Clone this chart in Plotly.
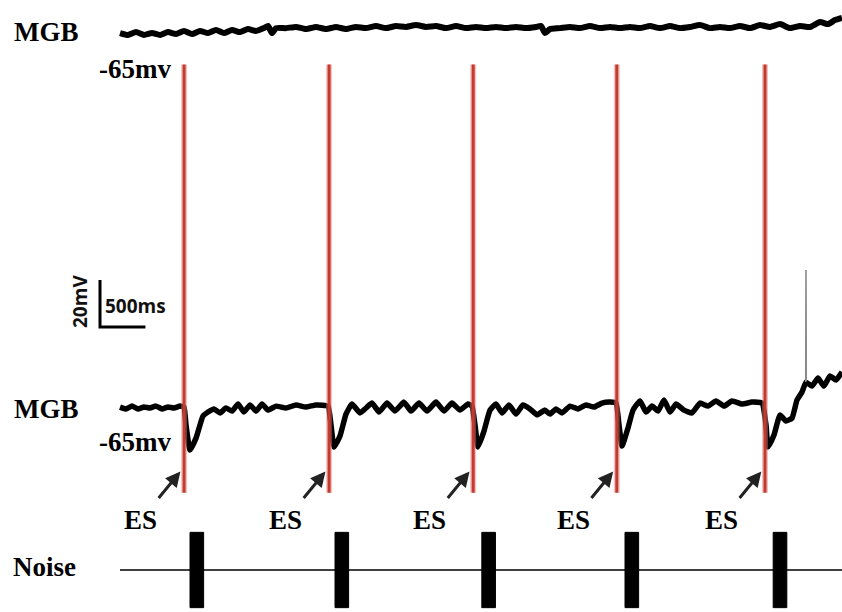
import plotly.graph_objects as go

# ---------------------------------------------------------------- data ----
# Upper MGB recording: time (ms) and membrane potential (mV)
top_t = [0, 88, 176, 264, 352, 440, 528, 616, 704, 792, 880, 968, 1056, 1144,
         1232, 1320, 1408, 1496, 1584, 1628, 1672, 1716, 1826, 1936, 2046, 2156,
         2266, 2376, 2486, 2596, 2706, 2816, 2926, 3036, 3146, 3256, 3366, 3476,
         3586, 3696, 3806, 3916, 4026, 4136, 4246, 4356, 4466, 4576, 4631, 4675,
         4730, 4840, 4950, 5060, 5170, 5280, 5390, 5500, 5610, 5720, 5830, 5940,
         6050, 6160, 6270, 6380, 6490, 6600, 6710, 6820, 6930, 7040, 7150, 7260,
         7370, 7480, 7590, 7700, 7788, 7865, 7942]
top_mv = [-66.3, -67.1, -65.9, -67.1, -66.3, -67.1, -65.9, -66.7, -65.4, -66.7,
          -65.4, -66.3, -65.0, -66.3, -65.0, -65.9, -64.6, -65.4, -64.2, -63.3,
          -66.3, -64.2, -64.2, -63.7, -64.6, -63.7, -64.6, -63.7, -64.6, -63.7,
          -64.2, -63.3, -64.2, -63.3, -63.7, -62.9, -63.7, -63.3, -64.2, -63.3,
          -64.2, -63.7, -64.2, -63.7, -64.2, -63.7, -64.2, -63.7, -63.3, -66.3,
          -64.6, -64.2, -63.7, -64.2, -63.3, -64.2, -63.7, -64.2, -63.7, -64.2,
          -63.3, -64.2, -63.3, -64.2, -63.7, -62.9, -64.2, -63.7, -64.2, -63.3,
          -64.2, -62.9, -63.7, -62.5, -64.2, -63.3, -63.7, -61.6, -62.5, -60.8,
          -59.9]

# Lower MGB recording: time (ms) and membrane potential (mV)
lower_t = [0, 66, 132, 198, 264, 330, 396, 462, 528, 594, 660, 704,
           726, 770, 836, 913, 968, 1034, 1100, 1166, 1232, 1298, 1364, 1430,
           1496, 1562, 1628, 1716, 1826, 1936, 2046, 2156, 2288,
           2321, 2354, 2420, 2486, 2552, 2640, 2706, 2772, 2849, 2937, 3025,
           3124, 3201, 3289, 3377, 3476, 3564, 3652, 3740, 3828, 3872,
           3905, 3938, 4004, 4070, 4136, 4202, 4279, 4356, 4433, 4510, 4587,
           4675, 4730, 4796, 4862, 4950, 5038, 5126, 5214, 5302, 5390, 5456,
           5489, 5522, 5588, 5643, 5720, 5786, 5852, 5918, 5984, 6050, 6116,
           6204, 6292, 6380, 6468, 6556, 6644, 6732, 6842, 6952, 7062,
           7106, 7128, 7194, 7260, 7326, 7392, 7447, 7502, 7546, 7612, 7678,
           7744, 7810, 7876, 7942]
lower_mv = [-64.6, -65.4, -64.2, -65.4, -64.6, -65.0, -64.2, -65.4, -64.6, -65.0,
            -64.2, -64.6,
            -72.2, -82.9, -77.8, -68.4, -66.7, -65.4, -67.1, -65.0, -66.3, -63.3,
            -66.7, -63.7, -66.3, -63.3, -65.9, -64.2, -65.0, -63.7, -64.6, -63.7,
            -64.2,
            -72.2, -81.6, -76.9, -67.6, -63.3, -67.1, -65.0, -62.9, -66.7, -62.9,
            -66.3, -62.5, -66.3, -62.9, -66.3, -62.5, -66.3, -62.9, -65.9, -63.3,
            -64.2,
            -72.2, -81.6, -74.8, -65.9, -63.3, -67.1, -63.7, -67.6, -63.7, -65.4,
            -67.9, -65.9, -67.6, -65.4, -67.1, -64.2, -65.4, -63.7, -64.6, -62.9,
            -62.5, -62.9,
            -72.2, -81.2, -73.5, -65.9, -62.0, -66.7, -64.2, -66.3, -61.6, -66.7,
            -63.3, -65.9, -67.1, -62.9, -64.2, -62.0, -64.2, -62.0, -63.3, -62.5,
            -62.9,
            -72.2, -81.6, -76.5, -68.0, -70.5, -69.3, -61.6, -58.2, -54.0, -55.7,
            -52.3, -55.7, -51.4, -53.1, -49.7]

# Action potential fired after the last stimulus
spike_t = [7543, 7546, 7549]
spike_mv = [-54.0, -6.4, -53.5]

# Electrical stimulation (ES) times, ms
es_t = [705, 2300, 3885, 5465, 7095]

# Noise bursts: onset and duration, ms
noise_onset = [770, 2365, 3980, 5555, 7185]
noise_dur = [150, 150, 150, 150, 150]

# Scale bar
scale_ms = 500
scale_mv = 20

# -------------------------------------------------------------- layout ----
W, H = 842, 612
MS_PER_PX = 11.0
MV_PER_PX = 0.425
X0 = -1320.0                      # time at the left edge
X1 = X0 + W * MS_PER_PX
Y1 = H * MV_PER_PX

TOP_OFF = 312.35                  # vertical offsets of each row
LOW_OFF = 151.7
NOISE_Y = 17.85
NOISE_AMP = 16.0
ES_TOP_MV, ES_BOT_MV = 81.0, -101.0
TRACE_END = lower_t[-1]


def px(x):
    return x / W


def py(y):
    return 1 - y / H


fig = go.Figure()

# upper trace
fig.add_trace(go.Scatter(
    x=top_t, y=[v + TOP_OFF for v in top_mv], mode="lines",
    line=dict(color="black", width=6, shape="spline", smoothing=0.5),
    hoverinfo="skip"))

# lower trace
fig.add_trace(go.Scatter(
    x=lower_t, y=[v + LOW_OFF for v in lower_mv], mode="lines",
    line=dict(color="black", width=5.5, shape="spline", smoothing=0.4),
    hoverinfo="skip"))

# spike
fig.add_trace(go.Scatter(
    x=spike_t, y=[v + LOW_OFF for v in spike_mv], mode="lines",
    line=dict(color="#8a8a8a", width=1.6), hoverinfo="skip"))

# ES artifacts
ex, ey = [], []
for t in es_t:
    ex += [t, t, None]
    ey += [ES_TOP_MV + LOW_OFF, ES_BOT_MV + LOW_OFF, None]
fig.add_trace(go.Scatter(x=ex, y=ey, mode="lines",
                         line=dict(color="rgba(225,120,110,0.45)", width=6),
                         hoverinfo="skip"))
fig.add_trace(go.Scatter(x=ex, y=ey, mode="lines",
                         line=dict(color="#c23a30", width=3),
                         hoverinfo="skip"))

# noise stimulus line and bursts
fig.add_trace(go.Scatter(x=[0, TRACE_END], y=[NOISE_Y, NOISE_Y], mode="lines",
                         line=dict(color="black", width=1.4), hoverinfo="skip"))
nx, ny = [], []
for on, d in zip(noise_onset, noise_dur):
    nx += [on, on, on + d, on + d, on, None]
    ny += [NOISE_Y - NOISE_AMP, NOISE_Y + NOISE_AMP, NOISE_Y + NOISE_AMP,
           NOISE_Y - NOISE_AMP, NOISE_Y - NOISE_AMP, None]
fig.add_trace(go.Scatter(x=nx, y=ny, mode="lines", fill="toself",
                         fillcolor="black", line=dict(color="black", width=1),
                         hoverinfo="skip"))

# scale bar
sb_x0 = -220
sb_y0 = 121.1
fig.add_trace(go.Scatter(
    x=[sb_x0, sb_x0, sb_x0 + scale_ms],
    y=[sb_y0 + scale_mv, sb_y0, sb_y0],
    mode="lines", line=dict(color="black", width=3), hoverinfo="skip"))

serif = dict(family="Liberation Serif", size=27, color="black", weight="bold")
sans = dict(family="Open Sans", size=19, color="#111111", weight="bold")

ann = []
ann.append(dict(text="MGB", x=px(12), y=py(32), xref="paper", yref="paper",
                xanchor="left", yanchor="middle", showarrow=False, font=serif))
ann.append(dict(text="-65mv", x=px(97), y=py(69), xref="paper", yref="paper",
                xanchor="left", yanchor="middle", showarrow=False, font=serif))
ann.append(dict(text="MGB", x=px(12), y=py(409), xref="paper", yref="paper",
                xanchor="left", yanchor="middle", showarrow=False, font=serif))
ann.append(dict(text="-65mv", x=px(97), y=py(442), xref="paper", yref="paper",
                xanchor="left", yanchor="middle", showarrow=False, font=serif))
ann.append(dict(text="Noise", x=px(11), y=py(567), xref="paper", yref="paper",
                xanchor="left", yanchor="middle", showarrow=False, font=serif))
ann.append(dict(text="20mV", x=px(80), y=py(302), xref="paper", yref="paper",
                xanchor="center", yanchor="middle", textangle=-90,
                showarrow=False, font=sans))
ann.append(dict(text="500ms", x=px(103), y=py(306), xref="paper", yref="paper",
                xanchor="left", yanchor="middle", showarrow=False, font=sans))

for t in es_t:
    ann.append(dict(text="ES", x=t - 480, y=LOW_OFF - 112.6, xref="x", yref="y",
                    xanchor="center", yanchor="middle", showarrow=False,
                    font=serif))
    ann.append(dict(text="", x=t - 40, y=LOW_OFF - 92.0, xref="x", yref="y",
                    ax=-23, ay=28, showarrow=True, arrowhead=2, arrowsize=1,
                    arrowwidth=3, arrowcolor="#222222", standoff=0))

fig.update_layout(
    width=W, height=H,
    margin=dict(l=0, r=0, t=0, b=0),
    paper_bgcolor="white", plot_bgcolor="white",
    showlegend=False,
    xaxis=dict(range=[X0, X1], visible=False, fixedrange=True),
    yaxis=dict(range=[0, Y1], visible=False, fixedrange=True),
    annotations=ann,
)

fig.write_html("out.html")
